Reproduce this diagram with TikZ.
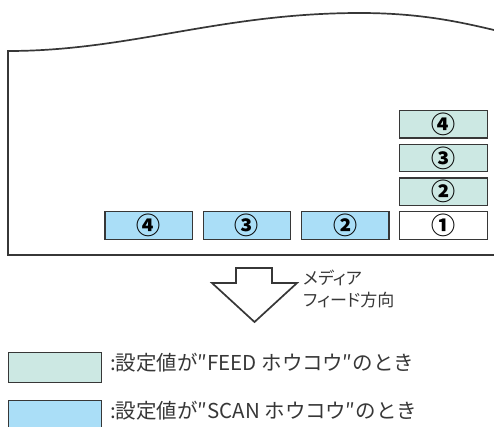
\documentclass[tikz,border=0pt]{standalone}
\usepackage{fontspec}
\setmainfont{Noto Sans CJK JP}
\newfontfamily\jpprop[RawFeature=+palt]{Noto Sans CJK JP}
\usetikzlibrary{positioning}
\definecolor{ink}{RGB}{55,55,55}
\definecolor{feedfill}{RGB}{204,232,227}
\definecolor{scanfill}{RGB}{170,222,247}
\tikzset{
    line join=miter,
    cell/.style={
        rectangle,
        draw=ink,
        line width=1.3pt,
        minimum width=87.5pt,
        minimum height=27.5pt,
        inner sep=0pt,
        font=\fontsize{24}{24}\selectfont\bfseries
    },
    feed/.style={cell, fill=feedfill},
    scan/.style={cell, fill=scanfill},
    origin/.style={cell, fill=white},
    legendbox/.style={cell, minimum width=92.5pt, minimum height=29.5pt},
    paper/.style={draw=ink, line width=1.7pt},
    dirarrow/.style={draw=ink, line width=1.7pt, fill=white},
    dirlabel/.style={
        font=\jpprop\fontsize{17}{22}\selectfont,
        align=left,
        inner sep=0pt,
        text=ink
    },
    legendtext/.style={
        font=\fontsize{20.5}{20.5}\selectfont,
        inner sep=0pt,
        text=ink
    }
}
\begin{document}
\begin{tikzpicture}[x=1pt, y=-1pt]
\useasboundingbox (0,0) rectangle (494,426);

% Media sheet (torn top edge)
\draw[paper] (494,255) -- (8,255) -- (8,51)
    .. controls (130,51) and (220,13) .. (360,13)
    .. controls (420,13) and (460,22) .. (494,30);

% Print order cells
\node[origin] (start) at (443.5,225.5) {①};
\node[feed, above=5pt of start] (feed2) {②};
\node[feed, above=5pt of feed2] (feed3) {③};
\node[feed, above=5pt of feed3] (feed4) {④};
\node[scan, left=9.5pt of start] (scan2) {②};
\node[scan, left=9.5pt of scan2] (scan3) {③};
\node[scan, left=9.5pt of scan3] (scan4) {④};

% Feed direction
\draw[dirarrow] (236,268) -- (272,268) -- (272,283) -- (297,283)
    -- (254.5,322) -- (212,283) -- (236,283) -- cycle;
\node[dirlabel, anchor=west] (dirtext) at (303,289) {メディア\\フィード方向};

% Legend
\node[legendbox, fill=feedfill] (legfeed) at (55,367.5) {};
\node[legendbox, fill=scanfill, below=17pt of legfeed] (legscan) {};
\node[legendtext, right=8pt of legfeed, yshift=5pt] (txtfeed) {:設定値が″FEED ホウコウ″のとき};
\node[legendtext, right=8pt of legscan, yshift=5pt] (txtscan) {:設定値が″SCAN ホウコウ″のとき};

\end{tikzpicture}
\end{document}
